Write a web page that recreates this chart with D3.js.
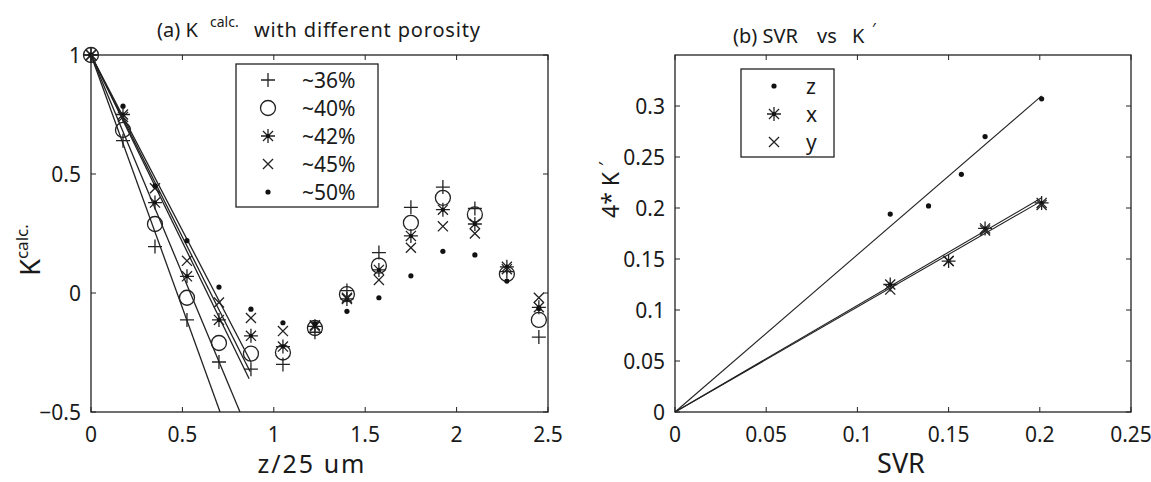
<!DOCTYPE html>
<html><head><meta charset="utf-8">
<script src="https://cdn.jsdelivr.net/npm/d3@7"></script>
<style>
body{margin:0;background:#fff;}
text{font-family:"Noto Sans",sans-serif;fill:#1a1a1a;}
</style></head>
<body><svg id="c" width="1151" height="482"></svg>
<script>
// ---------- data: panel (a) ----------
const zVals = [0,0.175,0.35,0.525,0.7,0.875,1.05,1.225,1.4,1.575,1.75,1.925,2.1,2.275,2.45];
const porosityLabels = ["~36%","~40%","~42%","~45%","~50%"];
const markerTypes = ["plus","circle","star","x","dot"];
const k36 = [1,0.64,0.195,-0.113,-0.29,-0.32,-0.30,-0.165,0.01,0.17,0.36,0.445,0.355,0.09,-0.185];
const k40 = [1,0.685,0.29,-0.02,-0.21,-0.255,-0.25,-0.147,-0.005,0.115,0.295,0.40,0.33,0.08,-0.113];
const k42 = [1,0.75,0.38,0.07,-0.113,-0.18,-0.225,-0.14,-0.025,0.097,0.24,0.35,0.29,0.11,-0.06];
const k45 = [1,0.74,0.44,0.135,-0.04,-0.105,-0.16,-0.135,-0.02,0.055,0.19,0.28,0.25,0.10,-0.02];
const k50 = [1,0.785,0.45,0.22,0.025,-0.068,-0.125,-0.13,-0.077,-0.02,0.072,0.175,0.16,0.05,-0.065];
// fitted lines: start and end points [z, K]
const fitStart = [[0,1],[0,1],[0,1],[0,1],[0,1]];
const fitEnd = [[0.706,-0.5],[0.815,-0.5],[0.865,-0.36],[0.87,-0.33],[0.875,-0.29]];
const xTicksA = [0,0.5,1,1.5,2,2.5];
const yTicksA = [-0.5,0,0.5,1];

// ---------- data: panel (b) ----------
const svrZ = [0.118,0.139,0.157,0.170,0.201];
const kz = [0.194,0.202,0.233,0.270,0.307];
const svrX = [0.118,0.150,0.170,0.201];
const kx = [0.125,0.148,0.180,0.205];
const svrY = [0.118,0.150,0.170,0.201];
const ky = [0.120,0.148,0.178,0.203];
const fitB = {z:[[0,0],[0.201,0.310]], x:[[0,0],[0.201,0.210]], y:[[0,0],[0.201,0.207]]};
const xTicksB = [0,0.05,0.1,0.15,0.2,0.25];
const yTicksB = [0,0.05,0.1,0.15,0.2,0.25,0.3];
const legendB = ["z","x","y"];
const legendBTypes = ["dot","star","x"];

const svg = d3.select("#c");
const stroke = "#222";

function marker(g, type, cx, cy){
  const s = 7;
  const p = d3.path();
  if(type==="plus"){ p.moveTo(cx-s,cy);p.lineTo(cx+s,cy);p.moveTo(cx,cy-s);p.lineTo(cx,cy+s); }
  else if(type==="x"){ const t=s*0.72; p.moveTo(cx-t,cy-t);p.lineTo(cx+t,cy+t);p.moveTo(cx-t,cy+t);p.lineTo(cx+t,cy-t); }
  else if(type==="star"){ const t=s*0.72; p.moveTo(cx-s,cy);p.lineTo(cx+s,cy);p.moveTo(cx,cy-s);p.lineTo(cx,cy+s);
    p.moveTo(cx-t,cy-t);p.lineTo(cx+t,cy+t);p.moveTo(cx-t,cy+t);p.lineTo(cx+t,cy-t); }
  if(type==="circle"){
    g.append("circle").attr("cx",cx).attr("cy",cy).attr("r",7.5).attr("fill","none").attr("stroke",stroke).attr("stroke-width",1.3);
  } else if(type==="dot"){
    g.append("circle").attr("cx",cx).attr("cy",cy).attr("r",2.6).attr("fill","#111");
  } else {
    g.append("path").attr("d",p.toString()).attr("fill","none").attr("stroke",stroke).attr("stroke-width",1.3);
    if(type==="star") g.append("circle").attr("cx",cx).attr("cy",cy).attr("r",2).attr("fill","#111");
  }
}

function frame(g, x, y, xt, yt, fmt){
  const [x0,x1]=x.range(), [y0,y1]=y.range();
  const ax = g.append("g");
  xt.forEach(v=>{
    ax.append("line").attr("x1",x(v)).attr("x2",x(v)).attr("y1",y0).attr("y2",y0-5).attr("stroke",stroke);
    ax.append("line").attr("x1",x(v)).attr("x2",x(v)).attr("y1",y1).attr("y2",y1+5).attr("stroke",stroke);
    ax.append("text").attr("x",x(v)).attr("y",y0+30).attr("text-anchor","middle").attr("font-size",21).text(fmt(v));
  });
  yt.forEach(v=>{
    ax.append("line").attr("x1",x0).attr("x2",x0+5).attr("y1",y(v)).attr("y2",y(v)).attr("stroke",stroke);
    ax.append("line").attr("x1",x1).attr("x2",x1-5).attr("y1",y(v)).attr("y2",y(v)).attr("stroke",stroke);
    ax.append("text").attr("x",x0-10).attr("y",y(v)+7.5).attr("text-anchor","end").attr("font-size",21).text(fmt(v));
  });
  g.append("rect").attr("x",x0).attr("y",y1).attr("width",x1-x0).attr("height",y0-y1)
    .attr("fill","none").attr("stroke",stroke).attr("stroke-width",1.3);
}
const fmt = v => String(v).replace("-","\u2212");

// ---------- panel (a) ----------
const xA = d3.scaleLinear().domain([0,2.5]).range([91,548]);
const yA = d3.scaleLinear().domain([-0.5,1]).range([412,55]);
const gA = svg.append("g");
const seriesA = [k36,k40,k42,k45,k50];
svg.append("clipPath").attr("id","ca").append("rect").attr("x",91).attr("y",40).attr("width",457).attr("height",372);
const lineGen = d3.line().x(d=>xA(d[0])).y(d=>yA(d[1]));
fitStart.forEach((s,i)=>{
  gA.append("path").attr("d",lineGen([s,fitEnd[i]])).attr("stroke",stroke).attr("stroke-width",1.3).attr("fill","none").attr("clip-path","url(#ca)");
});
seriesA.forEach((ser,i)=>{
  ser.forEach((v,j)=> marker(gA, markerTypes[i], xA(zVals[j]), yA(v)));
});
frame(gA, xA, yA, xTicksA, yTicksA, fmt);
// legend (a)
const lgA = gA.append("g");
lgA.append("rect").attr("x",236).attr("y",64).attr("width",142).attr("height",143).attr("fill","#fff").attr("stroke",stroke).attr("stroke-width",1.3);
porosityLabels.forEach((l,i)=>{
  const yy = 80 + i*28;
  marker(lgA, markerTypes[i], 268, yy);
  lgA.append("text").attr("x",302).attr("y",yy+7.5).attr("font-size",21).text(l);
});
// title & labels
const tA = svg.append("text").attr("y",37).attr("font-size",20);
tA.append("tspan").attr("x",157).text("(a) K");
tA.append("tspan").attr("x",210).attr("font-size",14).attr("dy",-10).text("calc.");
tA.append("tspan").attr("x",254).attr("dy",10).attr("textLength",226).attr("lengthAdjust","spacing").text("with different porosity");
svg.append("text").attr("x",312).attr("y",473).attr("text-anchor","middle").attr("font-size",25).attr("letter-spacing",2).text("z/25 um");
const yl = svg.append("text").attr("transform","translate(40,250) rotate(-90)").attr("text-anchor","middle").attr("font-size",27);
yl.append("tspan").text("K");
yl.append("tspan").attr("font-size",17).attr("dy",-12).text("calc.");

// ---------- panel (b) ----------
const xB = d3.scaleLinear().domain([0,0.25]).range([675,1131]);
const yB = d3.scaleLinear().domain([0,0.35]).range([412,55]);
const gB = svg.append("g");
const lineB = d3.line().x(d=>xB(d[0])).y(d=>yB(d[1]));
["z","x","y"].forEach(k=>{
  gB.append("path").attr("d",lineB(fitB[k])).attr("stroke",stroke).attr("stroke-width",1.1).attr("fill","none");
});
svrZ.forEach((s,i)=>marker(gB,"dot",xB(s),yB(kz[i])));
svrX.forEach((s,i)=>marker(gB,"star",xB(s),yB(kx[i])));
svrY.forEach((s,i)=>marker(gB,"x",xB(s),yB(ky[i])));
frame(gB, xB, yB, xTicksB, yTicksB, fmt);
const lgB = gB.append("g");
lgB.append("rect").attr("x",741).attr("y",69).attr("width",93).attr("height",88).attr("fill","#fff").attr("stroke",stroke).attr("stroke-width",1.3);
legendB.forEach((l,i)=>{
  const yy = 86 + i*28;
  marker(lgB, legendBTypes[i], 774, yy);
  lgB.append("text").attr("x",806).attr("y",yy+7.5).attr("font-size",21).text(l);
});
const tB = svg.append("text").attr("y",43).attr("font-size",20);
tB.append("tspan").attr("x",733).text("(b) SVR");
tB.append("tspan").attr("x",817).text("vs");
tB.append("tspan").attr("x",852).text("K");
tB.append("tspan").attr("x",872).attr("font-size",16).attr("dy",-8).text("\u2032");
svg.append("text").attr("x",901).attr("y",473).attr("text-anchor","middle").attr("font-size",27).text("SVR");
const yl2 = svg.append("text").attr("transform","translate(619,190) rotate(-90)").attr("text-anchor","middle").attr("font-size",23);
yl2.append("tspan").text("4* K ");
yl2.append("tspan").attr("font-size",17).attr("dy",-8).text("\u2032");
</script></body></html>
